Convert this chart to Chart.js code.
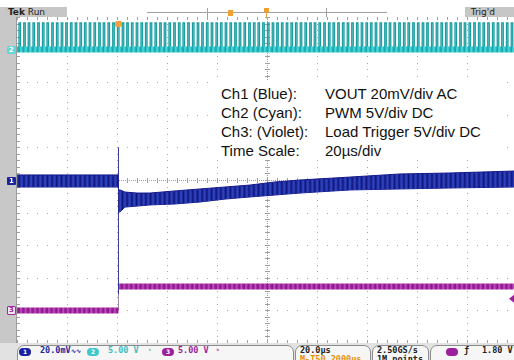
<!DOCTYPE html>
<html>
<head>
<meta charset="utf-8">
<script src="https://cdn.jsdelivr.net/npm/chart.js@4.4.1/dist/chart.umd.min.js"></script>
<style>
  body { margin: 0; background: #fff; }
  #wrap { position: relative; width: 514px; height: 360px; overflow: hidden; font-family: "DejaVu Sans", sans-serif; }
  #scope { position: absolute; left: 0; top: 0; }
  .hdr { position: absolute; top: 7px; height: 10px; background: #c6c6c6; font-size: 9px; line-height: 10px; color: #222; white-space: nowrap; }
  .mk { position: absolute; left: 7px; width: 9px; height: 8px; font-size: 7px; line-height: 8px; text-align: center; font-weight: bold; border-radius: 1px; }
  #note { position: absolute; left: 216px; top: 80px; width: 287px; height: 80px; background: #fff; }
  #note div { position: absolute; top: 4px; font-family: "Liberation Sans", Arial, sans-serif; font-size: 15px; line-height: 19px; color: #111; white-space: nowrap; }
  #bar { position: absolute; left: 0; top: 343px; width: 514px; height: 17px; background: #e2e2e2; }
  .pill { position: absolute; top: 2px; height: 20px; background: #f6f6f6; border: 1px solid #8c8c8c; border-radius: 7px; }
  .st { position: absolute; top: 3px; font-family: "DejaVu Sans Mono", monospace; font-size: 8.5px; font-weight: bold; line-height: 9px; white-space: nowrap; }
  .dot { position: absolute; top: 5px; width: 12px; height: 8px; border-radius: 4px; font-size: 6px; line-height: 8px; text-align: center; font-weight: bold; }
</style>
</head>
<body>
<div id="wrap">
  <canvas id="scope" width="514" height="360"></canvas>

  <div class="hdr" style="left:5px;width:62px;">&nbsp;<b>Tek</b> Run</div>
  <div class="hdr" style="left:465px;width:49px;">&nbsp;&nbsp;Trig'd</div>

  <div class="mk" style="top:46px;background:#62d6d8;color:#fff;">2</div>
  <div class="mk" style="top:177px;background:#1a22a0;color:#fff;">1</div>
  <div class="mk" style="top:306px;background:#f2e2f2;color:#9a1f9a;border:1px solid #a02aa0;width:7px;height:7px;line-height:7px;">3</div>

  <div id="note">
    <div style="left:5px;">Ch1 (Blue):<br>Ch2 (Cyan):<br>Ch3: (Violet):<br>Time Scale:</div>
    <div style="left:109px;">VOUT 20mV/div AC<br>PWM 5V/div DC<br>Load Trigger 5V/div DC<br>20µs/div</div>
  </div>

  <div id="bar">
    <div class="pill" style="left:17px;width:275px;"></div>
    <div class="dot" style="left:19px;background:#1a22a0;color:#fff;">1</div>
    <div class="st" style="left:40px;color:#1a2a9a;">20.0mV<span style="font-size:6px;">∿∿</span></div>
    <div class="dot" style="left:87px;background:#3cc8cc;color:#fff;">2</div>
    <div class="st" style="left:108px;color:#3cc0c4;">5.00 V</div>
    <div class="st" style="left:148px;color:#3cc0c4;font-size:6px;">ʰ</div>
    <div class="dot" style="left:162px;background:#9c1f9c;color:#fff;">3</div>
    <div class="st" style="left:178px;color:#9c1f9c;">5.00 V</div>
    <div class="st" style="left:216px;color:#9c1f9c;font-size:6px;">ʰ</div>
    <div class="pill" style="left:295px;width:74px;"></div>
    <div class="st" style="left:300px;color:#222;">20.0µs</div>
    <div class="st" style="left:300px;top:12px;color:#e8900a;">M▸T50.2000µs</div>
    <div class="pill" style="left:372px;width:55px;"></div>
    <div class="st" style="left:377px;color:#222;">2.50GS/s</div>
    <div class="st" style="left:377px;top:12px;color:#222;">1M points</div>
    <div class="pill" style="left:430px;width:90px;"></div>
    <div class="dot" style="left:446px;background:#9c1f9c;color:#9c1f9c;">3</div>
    <div class="st" style="left:464px;color:#222;">ƒ</div>
    <div class="st" style="left:482px;color:#222;">1.80 V</div>
  </div>
</div>

<script>
// graticule: 20 µs/div horizontally (trigger at 0), 10 divisions vertically
var timeTicks = [-40, -20, 0, 20, 40, 60, 80, 100, 120, 140, 160];
var ch1Ticks = [-100, -80, -60, -40, -20, 0, 20, 40, 60, 80, 100];

// Ch1 VOUT (mV, AC) - envelope of the ripple band
var ch1Time  = [-40, -20, 0.6, 0.6, 1.2, 3.2, 8, 13.2, 23.2, 33.2, 43.2, 53.2, 63.2, 73.2, 93.2, 113.2, 133.2, 158.8];
var ch1Upper = [3.1, 3.1, 3.1, -6.1, -6.1, -7.4, -8.0, -8.0, -6.7, -5.5, -4.3, -3.1, -1.2, 0, 1.8, 3.7, 4.3, 5.5];
var ch1Lower = [-4.3, -4.3, -4.3, -19.6, -19.6, -16.6, -16.0, -15.3, -14.7, -13.5, -11.7, -10.4, -9.2, -8.0, -6.1, -5.5, -4.9, -4.3];
// fast transient at the load step
var ch1SpikeTime = [0.6, 0.6];
var ch1SpikeMv = [20, -70];

// Ch2 PWM (V) - start of each switching pulse, µs
var pwmStarts = [-39.2, -37.3, -35.5, -33.6, -31.7, -29.8, -28.0, -26.1, -24.2, -22.3, -20.5, -18.6,
  -16.7, -14.8, -13.0, -11.1, -9.2, -7.3, -5.5, -3.6, -1.7, 0.2, 2.1, 3.9, 5.8, 7.7, 9.6, 11.4,
  13.3, 15.2, 17.1, 18.9, 20.8, 22.7, 24.6, 26.4, 28.3, 30.2, 32.1, 33.9, 35.8, 37.7, 39.6, 41.4,
  43.3, 45.2, 47.1, 48.9, 50.8, 52.7, 54.6, 56.4, 58.3, 60.2, 62.1, 63.9, 65.8, 67.7, 69.6, 71.4,
  73.3, 75.2, 77.1, 78.9, 80.8, 82.7, 84.6, 86.4, 88.3, 90.2, 92.1, 93.9, 95.8, 97.7, 99.6, 101.4,
  103.3, 105.2, 107.1, 108.9, 110.8, 112.7, 114.6, 116.4, 118.3, 120.2, 122.1, 123.9, 125.8, 127.7,
  129.6, 131.4, 133.3, 135.2, 137.1, 138.9, 140.8, 142.7, 144.6, 146.4, 148.3, 150.2, 152.1, 153.9,
  155.8, 157.7];
var pwmWidth = 0.6;
var pwmLow = 0;
var pwmHigh = 4.1;

// Ch3 load trigger (V)
var ch3Time = [-40, 0.6, 0.6, 158.8];
var ch3Volts = [0, 0, 3.65, 3.65];
var trigLevel = 1.8;
var trigTime = 0.6;

function pts(xs, ys) {
  return xs.map(function (x, i) { return { x: x, y: ys[i] }; });
}

// pulse train built from the pulse start list
var pwmPoints = [];
pwmStarts.forEach(function (t) {
  pwmPoints.push({ x: t, y: pwmLow }, { x: t, y: pwmHigh }, { x: t + pwmWidth, y: pwmHigh }, { x: t + pwmWidth, y: pwmLow });
});

// stripe textures for the thick traces (switching ripple look)
function stripes(cols) {
  var c = document.createElement('canvas');
  c.width = cols.length; c.height = 1;
  var g = c.getContext('2d');
  cols.forEach(function (col, i) { g.fillStyle = col; g.fillRect(i, 0, 1, 1); });
  var p = g.createPattern(c, 'repeat');
  p.setTransform(new DOMMatrix([0.938, 0, 0, 1, 0, 0]));
  return p;
}
var bluePat = stripes(['#10147a', '#1c2a9c', '#2a3eb8', '#2e44bc', '#1e2c9c']);
var cyanPat = stripes(['#17a2a6', '#3bcfd2', '#4ad8da', '#30c6ca', '#20b0b4']);
var violetPat = stripes(['#861886', '#b23ab2', '#c250c2', '#a62aa6', '#961f96']);

var graticule = {
  id: 'graticule',
  beforeDatasetsDraw: function (chart) {
    var ctx = chart.ctx, a = chart.chartArea, x = chart.scales.x, y = chart.scales.y1;
    ctx.save();
    ctx.fillStyle = '#a8a8a8';
    timeTicks.forEach(function (t) {
      var px = Math.round(x.getPixelForValue(t));
      if (t === 60) return;
      for (var v = -100; v <= 100; v += 4) {
        ctx.fillRect(px, Math.round(y.getPixelForValue(v)), 1, 1);
      }
    });
    ch1Ticks.forEach(function (v) {
      var py = Math.round(y.getPixelForValue(v));
      if (v === 0) return;
      for (var t = -40; t <= 160; t += 4) {
        ctx.fillRect(Math.round(x.getPixelForValue(t)), py, 1, 1);
      }
    });
    // centre cross with sub-division ticks
    var cx = Math.round(x.getPixelForValue(60)), cy = Math.round(y.getPixelForValue(0));
    ctx.fillStyle = '#a0a0a0';
    for (var py = a.top; py < a.bottom; py += 2) ctx.fillRect(cx, py, 1, 1);
    for (var px = a.left; px < a.right; px += 2) ctx.fillRect(px, cy, 1, 1);
    for (var v = -100; v <= 100; v += 4) {
      var ty = Math.round(y.getPixelForValue(v));
      ctx.fillRect(cx - 2, ty, 5, 1);
      ctx.fillRect(a.left, ty, 3, 1);
    }
    for (var t = -40; t <= 160; t += 4) {
      var tx = Math.round(x.getPixelForValue(t));
      ctx.fillRect(tx, cy - 2, 1, 5);
      ctx.fillRect(tx, a.top, 1, 3);
      ctx.fillRect(tx, a.bottom - 3, 1, 3);
    }
    ctx.restore();
  },
  afterDraw: function (chart) {
    var ctx = chart.ctx, a = chart.chartArea, x = chart.scales.x, y3 = chart.scales.y3;
    ctx.save();
    // record view bar in the header
    ctx.fillStyle = '#a0a0a0';
    ctx.fillRect(147, 12, 240, 1);
    ctx.fillRect(207, 8, 1, 9);
    ctx.fillRect(326, 8, 1, 9);
    ctx.fillStyle = '#f0a030';
    ctx.fillRect(228, 10, 5, 6);
    ctx.fillRect(264, 8, 5, 4);
    ctx.fillRect(266, 12, 1, 5);
    // trigger position marker
    var tx = x.getPixelForValue(trigTime);
    ctx.fillStyle = '#f2a23a';
    ctx.beginPath();
    ctx.roundRect(tx - 3.5, a.top + 4, 7, 6, 2);
    ctx.fill();
    // trigger level arrow
    var ty = y3.getPixelForValue(trigLevel);
    ctx.fillStyle = '#a020a0';
    ctx.beginPath();
    ctx.moveTo(a.right - 5, ty);
    ctx.lineTo(a.right, ty - 4);
    ctx.lineTo(a.right, ty + 4);
    ctx.closePath();
    ctx.fill();
    ctx.restore();
  }
};

// left strip under the chart
var frame = {
  id: 'frame',
  beforeDraw: function (chart) {
    var ctx = chart.ctx;
    ctx.save();
    ctx.fillStyle = '#c8c8c8';
    ctx.fillRect(0, 7, 16, 337);
    ctx.fillStyle = '#9a9a9a';
    ctx.fillRect(16, 17, 1, 326);
    ctx.restore();
  }
};

new Chart(document.getElementById('scope'), {
  type: 'line',
  data: {
    datasets: [
      { data: pts(ch1SpikeTime, ch1SpikeMv), yAxisID: 'y1', borderColor: 'rgba(40,40,140,0.55)', borderWidth: 1 },
      { data: pts(ch1Time, ch1Upper), yAxisID: 'y1', borderColor: '#14188c', borderWidth: 1, fill: '+1', backgroundColor: bluePat },
      { data: pts(ch1Time, ch1Lower), yAxisID: 'y1', borderColor: '#14188c', borderWidth: 1 },
      { data: pts([-40, 158.8], [pwmLow, pwmLow]), yAxisID: 'y2', borderColor: cyanPat, borderWidth: 6 },
      { data: pwmPoints, yAxisID: 'y2', borderColor: '#1a9ea2', borderWidth: 1.3 },
      { data: pts(ch3Time.slice(0, 2), ch3Volts.slice(0, 2)), yAxisID: 'y3', borderColor: violetPat, borderWidth: 6 },
      { data: pts(ch3Time.slice(2), ch3Volts.slice(2)), yAxisID: 'y3', borderColor: violetPat, borderWidth: 6 },
      { data: pts(ch3Time, ch3Volts), yAxisID: 'y3', borderColor: 'rgba(120,90,130,0.7)', borderWidth: 1 }
    ]
  },
  options: {
    responsive: false,
    animation: false,
    events: [],
    layout: { padding: { left: 17, top: 17, right: 0, bottom: 17 } },
    elements: { point: { radius: 0 }, line: { tension: 0 } },
    plugins: { legend: { display: false }, tooltip: { enabled: false } },
    scales: {
      x: { type: 'linear', min: -40, max: 158.8, display: false },
      y1: { type: 'linear', min: -100, max: 100, display: false },
      y2: { type: 'linear', min: -45, max: 5, display: false },
      y3: { type: 'linear', min: -5, max: 45, display: false }
    }
  },
  plugins: [frame, graticule]
});
</script>
</body>
</html>
